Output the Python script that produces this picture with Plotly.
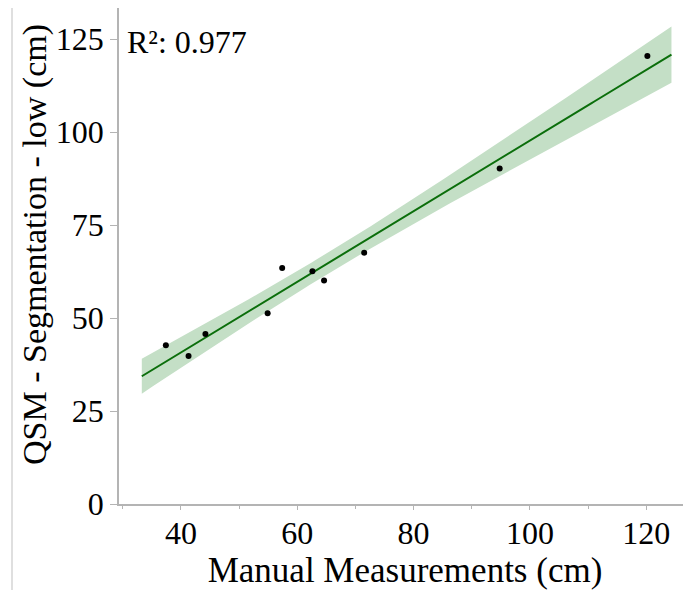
import numpy as np
import plotly.graph_objects as go

# Data
manual_cm = [37.4, 41.3, 44.2, 54.9, 57.4, 62.6, 64.6, 71.5, 94.8, 120.2]
qsm_low_cm = [42.7, 39.8, 45.7, 51.3, 63.5, 62.6, 60.1, 67.6, 90.2, 120.5]
r2_label = "R²: 0.977"
x_ticks = [40, 60, 80, 100, 120]
y_ticks = [0, 25, 50, 75, 100, 125]

x = np.array(manual_cm)
y = np.array(qsm_low_cm)
n = len(x)
slope, intercept = np.polyfit(x, y, 1)
pad = 0.05 * (x.max() - x.min())
xf = np.linspace(x.min() - pad, x.max() + pad, 200)
yf = intercept + slope * xf
resid = y - (intercept + slope * x)
s = np.sqrt(np.sum(resid ** 2) / (n - 2))
sxx = np.sum((x - x.mean()) ** 2)
t_crit = 2.306  # t(0.975, df=8)
half = t_crit * s * np.sqrt(1.0 / n + (xf - x.mean()) ** 2 / sxx)

# figure pixel frame (page body adds an 8px offset)
W, H = 691, 590
L, T, R, B = 111, 0, 8, 94
pw, ph = W - L - R, H - T - B

def px(xp):
    return (xp - L) / pw

def py(yp):
    return (H - B - yp) / ph

font = "Liberation Serif, Times New Roman, serif"
axis_grey = "#b4b4b4"

fig = go.Figure()
fig.add_trace(go.Scatter(
    x=np.concatenate([xf, xf[::-1]]),
    y=np.concatenate([yf + half, (yf - half)[::-1]]),
    fill="toself", fillcolor="#c4dfc6", line=dict(width=0),
    hoverinfo="skip", showlegend=False))
fig.add_trace(go.Scatter(x=xf, y=yf, mode="lines",
                         line=dict(color="#0b6e0b", width=2), showlegend=False))
fig.add_trace(go.Scatter(x=manual_cm, y=qsm_low_cm, mode="markers",
                         marker=dict(color="black", size=6), showlegend=False))

fig.update_layout(
    width=W, height=H,
    margin=dict(l=L, r=R, t=T, b=B, autoexpand=False),
    paper_bgcolor="white", plot_bgcolor="white",
    font=dict(family=font, size=32, color="black"),
    xaxis=dict(range=[29.34, 127.7], tickvals=x_ticks, automargin=False,
               showline=True, linecolor=axis_grey, linewidth=1.5, mirror=True,
               ticks="outside", ticklen=4, tickcolor=axis_grey,
               ticklabelstandoff=-4,
               minor=dict(dtick=10, tick0=30, ticks="outside", ticklen=3, tickcolor=axis_grey),
               showgrid=False, zeroline=False,
               tickfont=dict(size=32),
               title=dict(text="Manual Measurements (cm)", font=dict(size=35), standoff=2)),
    yaxis=dict(range=[0, 133.4], tickvals=y_ticks, automargin=False,
               showline=True, linecolor=axis_grey, linewidth=1.5,
               ticks="outside", ticklen=7, tickcolor=axis_grey,
               showgrid=False, zeroline=False,
               tickfont=dict(size=32)),
    annotations=[
        dict(text=r2_label, xref="paper", yref="paper",
             x=px(117), y=py(14), xanchor="left", yanchor="top",
             showarrow=False, font=dict(size=32)),
        dict(text="QSM - Segmentation - low (cm)", xref="paper", yref="paper",
             x=px(27), y=py(237), xanchor="center", yanchor="middle", textangle=-90,
             showarrow=False, font=dict(size=34)),
    ],
    shapes=[
        dict(type="line", xref="paper", yref="paper", x0=px(4), x1=px(4), y0=py(0), y1=py(H),
             line=dict(color="#d4d4d4", width=1.5)),
    ],
)

fig.write_html("out.html")
